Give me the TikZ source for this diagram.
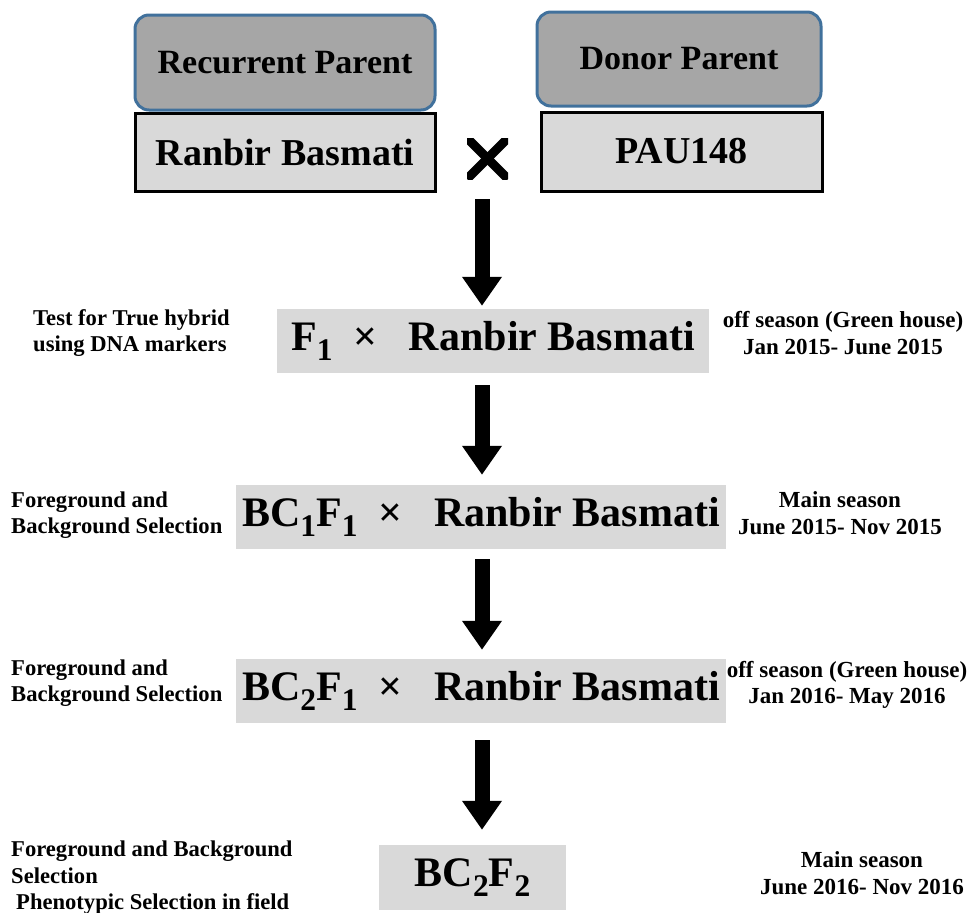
\documentclass[tikz,border=0pt]{standalone}
\usepackage{fontspec}
\usepackage{graphicx}
\setmainfont{Liberation Serif}
\usetikzlibrary{arrows.meta}
\definecolor{hdr}{HTML}{A6A6A6}
\definecolor{lgr}{HTML}{D9D9D9}
\definecolor{bblue}{HTML}{41719C}
\newcommand\sbs[1]{\raisebox{-0.22em}{\scalebox{0.75}{#1}}}
\tikzset{
 hdrbox/.style={draw=bblue, line width=3pt, fill=hdr, rounded corners=14pt, inner sep=0pt, font=\bfseries\fontsize{34}{40}\selectfont},
 namebox/.style={draw=black, line width=3pt, fill=lgr, inner sep=0pt, font=\bfseries\fontsize{38}{44}\selectfont},
 genbox/.style={fill=lgr, inner sep=0pt, font=\bfseries\fontsize{42}{48}\selectfont},
 sidel/.style={font=\bfseries\fontsize{22.6}{26.5}\selectfont, align=left, inner sep=0pt},
 sider/.style={font=\bfseries\fontsize{23}{26.5}\selectfont, align=center, inner sep=0pt},
 bigarrow/.style={line width=15pt, -{Triangle[width=38pt,length=29pt]}},
}
\begin{document}
\begin{tikzpicture}[x=1pt,y=-1pt]
\useasboundingbox (0,0) rectangle (975,913);
% parents
\node[hdrbox, minimum width=300pt, minimum height=95pt] (rec) at (285,62.5) {Recurrent Parent};
\node[namebox, minimum width=300pt, minimum height=78pt] (ranbir) at (285,152) {Ranbir Basmati};
\node[hdrbox, minimum width=284pt, minimum height=94pt] (don) at (679,59) {Donor Parent};
\node[namebox, minimum width=281pt, minimum height=79pt] (pau) at (681.5,151.5) {PAU148};
\node[minimum size=41pt, inner sep=0pt, path picture={
  \draw[line width=9pt] (path picture bounding box.north west) -- (path picture bounding box.south east);
  \draw[line width=9pt] (path picture bounding box.south west) -- (path picture bounding box.north east);}] (cross) at (487.5,158.5) {};
% generations
\node[genbox, minimum width=432pt, minimum height=64pt] (f1) at (493,341) {F\sbs{1}~~×~~ Ranbir Basmati};
\node[genbox, minimum width=490pt, minimum height=64pt] (bc1) at (481,517) {BC\sbs{1}F\sbs{1}~~×~~ Ranbir Basmati};
\node[genbox, minimum width=490pt, minimum height=64pt] (bc2) at (481,691) {BC\sbs{2}F\sbs{1}~~×~~ Ranbir Basmati};
\node[genbox, minimum width=187pt, minimum height=65pt] (bc22) at (472.5,877.5) {BC\sbs{2}F\sbs{2}};
% arrows
\coordinate (ax) at (482,0);
\draw[bigarrow, shorten <=20pt, shorten >=3pt] (ax |- cross.south) -- (ax |- f1.north);
\draw[bigarrow, shorten <=12pt, shorten >=10pt] (ax |- f1.south) -- (ax |- bc1.north);
\draw[bigarrow, shorten <=10pt, shorten >=9pt] (ax |- bc1.south) -- (ax |- bc2.north);
\draw[bigarrow, shorten <=17pt, shorten >=15pt] (ax |- bc2.south) -- (ax |- bc22.north);
% left notes
\node[sidel, anchor=west] (l1) at (33,333) {Test for True hybrid\\using DNA markers};
\node[sidel, anchor=west] (l2) at (11,515) {Foreground and\\Background Selection};
\node[sidel, anchor=west] (l3) at (11,683) {Foreground and\\Background Selection};
\node[sidel, anchor=west] (l4) at (11,878) {Foreground and Background\\Selection\\\hspace*{5pt}Phenotypic Selection in field};
% right notes
\node[sider] (r1) at (843,333) {off season (Green house)\\Jan 2015- June 2015};
\node[sider] (r2) at (840,513) {Main season\\June 2015- Nov 2015};
\node[sider] (r3) at (847,685) {off season (Green house)\\Jan 2016- May 2016};
\node[sider] (r4) at (862,873) {Main season\\June 2016- Nov 2016};
\end{tikzpicture}
\end{document}
